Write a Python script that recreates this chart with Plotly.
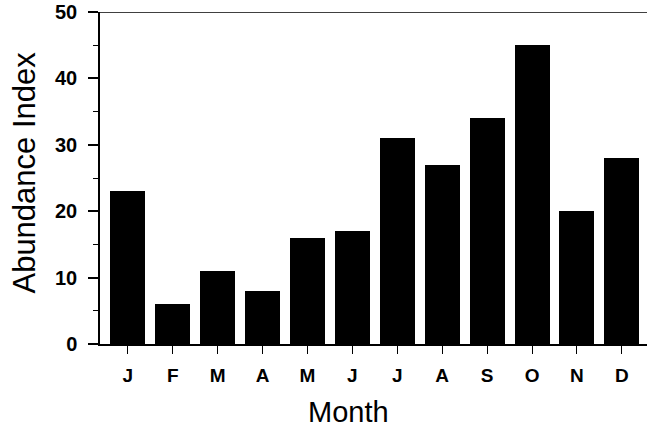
import plotly.graph_objects as go

months = ["J", "F", "M", "A", "M", "J", "J", "A", "S", "O", "N", "D"]
abundance = [23, 6, 11, 8, 16, 17, 31, 27, 34, 45, 20, 28]
positions = list(range(len(months)))
y_ticks = [0, 10, 20, 30, 40, 50]

FONT = "Arial, Liberation Sans, Helvetica, sans-serif"

fig = go.Figure(go.Bar(
    x=positions, y=abundance, width=0.78,
    marker=dict(color="black", line=dict(width=0)),
))

fig.update_layout(
    width=647, height=429,
    margin=dict(l=100, r=0, t=12, b=85),
    paper_bgcolor="white", plot_bgcolor="white",
    font=dict(family=FONT, color="black"),
    showlegend=False,
    bargap=0,
)

fig.update_xaxes(
    range=[-0.62, 11.56],
    tickmode="array", tickvals=positions, ticktext=months,
    ticks="outside", ticklen=8, tickwidth=1, tickcolor="black",
    tickfont=dict(size=19, family=FONT, color="black", weight="bold"),
    showline=True, linecolor="black", linewidth=1.5,
    showgrid=False, zeroline=False,
    ticklabelstandoff=5,
)
fig.update_yaxes(
    range=[0, 50],
    tickmode="array", tickvals=y_ticks,
    ticks="outside", ticklen=10, tickwidth=1.5, tickcolor="black",
    tickfont=dict(size=20, family=FONT, color="black", weight="bold"),
    showline=True, linecolor="black", linewidth=1.5,
    showgrid=False, zeroline=False,
    minor=dict(tickvals=[5, 15, 25, 35, 45], ticks="outside", ticklen=5,
               tickcolor="black", tickwidth=1),
    ticklabelstandoff=7,
)

fig.add_shape(type="line", xref="paper", yref="y", x0=0, x1=1, y0=50, y1=50,
              line=dict(color="black", width=1.5))

fig.add_annotation(text="Abundance Index", xref="paper", yref="paper",
                   x=-0.138, y=0.515, xanchor="center", yanchor="middle",
                   textangle=-90, showarrow=False,
                   font=dict(size=31, family=FONT, color="black"))
fig.add_annotation(text="Month", xref="paper", yref="paper",
                   x=0.455, y=-0.204, xanchor="center", yanchor="middle",
                   showarrow=False,
                   font=dict(size=29, family=FONT, color="black"))

fig.write_html("out.html",
               config={"displayModeBar": False},
               post_script="document.body.style.margin='0';document.body.style.overflow='hidden';")
